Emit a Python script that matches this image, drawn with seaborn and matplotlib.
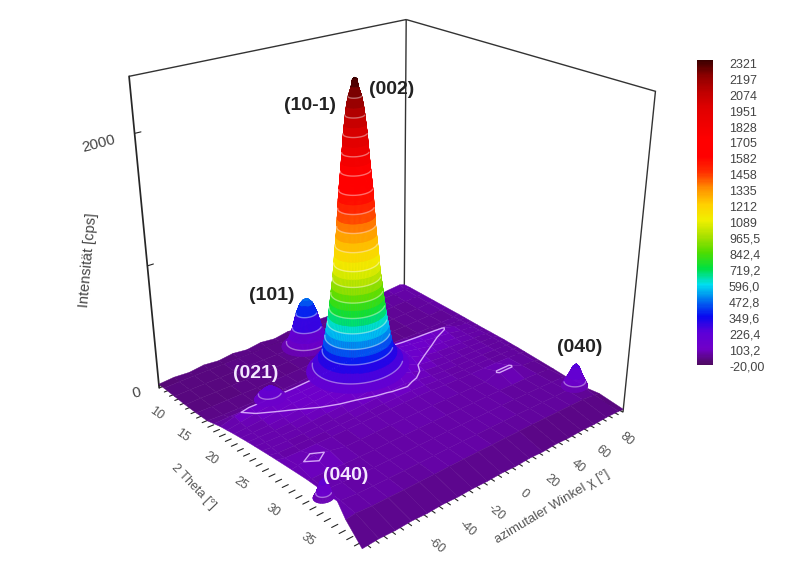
import numpy as np
import matplotlib
matplotlib.use('Agg')
import matplotlib.pyplot as plt
from matplotlib.cm import ScalarMappable
from matplotlib.colors import Normalize
import seaborn as sns

# colour bar
bar_levels = [-20, 103.2, 226.4, 349.6, 472.8, 596.0, 719.2, 842.4, 965.5, 1089, 1212,
              1335, 1458, 1582, 1705, 1828, 1951, 2074, 2197, 2321]
bar_labels = ['-20,00', '103,2', '226,4', '349,6', '472,8', '596,0', '719,2', '842,4', '965,5', '1089',
              '1212', '1335', '1458', '1582', '1705', '1828', '1951', '2074', '2197', '2321']
bar_colors = ['#4e0a60', '#7000c8', '#5c00d8', '#0808f0', '#0070f0', '#00e0f0', '#00e040', '#50dc00',
              '#a8e000', '#f0f000', '#ffd000', '#ff9000', '#ff3000', '#ff0000', '#ff0000', '#f00000',
              '#e00000', '#c00000', '#900000', '#3c0000']

# floor of the map (rows: 2 theta, columns: chi)
chi = [-100, -90, -80, -70, -60, -50, -40, -30, -20, -10, 0, 10, 20, 30, 40, 50, 60, 70, 80, 84]
theta = [9, 10, 12, 14, 16, 18, 19, 20, 21, 22, 23, 24, 25, 26, 27, 28, 30, 32, 34, 36, 38, 41]
left_edge = [-100, -100, -100, -100, -100, -100, -99.5, -99, -98.5, -98, -97.5, -97, -96.5, -96, -95.5, -95,
             -94, -93, -92.5, -92, -96, -100]
floor = [
    [12, 22, 14, 30, 18, 34, 20, 38, 24, 44, 30, 50, 44, 62, 70, 82, 60, 75, 85, 70],
    [14, 18, 20, 22, 24, 26, 26, 30, 30, 32, 34, 38, 42, 48, 52, 58, 60, 65, 70, 72],
    [16, 20, 22, 22, 26, 28, 30, 30, 36, 38, 40, 38, 38, 40, 44, 50, 52, 58, 62, 70],
    [18, 22, 22, 24, 26, 30, 30, 35, 40, 42, 42, 40, 36, 38, 40, 44, 48, 52, 60, 68],
    [24, 24, 26, 28, 28, 32, 34, 40, 46, 52, 54, 48, 40, 38, 40, 42, 46, 50, 56, 66],
    [34, 30, 30, 32, 34, 36, 42, 50, 62, 76, 82, 72, 56, 46, 44, 44, 46, 50, 56, 64],
    [46, 50, 52, 56, 58, 60, 68, 76, 88, 100, 108, 96, 80, 66, 60, 58, 58, 56, 58, 62],
    [58, 92, 118, 118, 122, 124, 130, 140, 160, 190, 210, 185, 150, 132, 122, 116, 108, 74, 60, 60],
    [64, 82, 104, 118, 120, 122, 128, 140, 165, 200, 225, 195, 155, 135, 120, 104, 92, 70, 60, 58],
    [70, 76, 88, 104, 116, 120, 126, 138, 165, 200, 225, 195, 150, 128, 104, 90, 80, 68, 60, 56],
    [74, 76, 80, 88, 103, 116, 124, 136, 160, 190, 215, 185, 140, 103, 88, 80, 74, 66, 60, 56],
    [78, 78, 76, 80, 90, 103, 115, 130, 150, 180, 200, 165, 103, 88, 78, 74, 70, 64, 58, 54],
    [80, 76, 74, 74, 80, 88, 98, 106, 125, 150, 165, 125, 90, 78, 72, 68, 66, 62, 58, 54],
    [82, 74, 72, 72, 74, 78, 84, 90, 96, 106, 112, 96, 80, 72, 68, 66, 64, 60, 56, 50],
    [84, 72, 70, 70, 72, 74, 76, 80, 84, 88, 90, 84, 76, 70, 66, 64, 62, 58, 54, 48],
    [85, 72, 70, 70, 70, 72, 74, 76, 78, 80, 80, 78, 72, 68, 66, 64, 62, 58, 52, 44],
    [86, 95, 118, 95, 70, 70, 72, 72, 74, 74, 74, 72, 70, 68, 66, 108, 108, 58, 50, 36],
    [86, 74, 78, 70, 68, 68, 70, 70, 70, 70, 70, 68, 66, 66, 64, 62, 62, 56, 46, 28],
    [86, 76, 70, 68, 66, 66, 66, 68, 68, 68, 66, 66, 64, 64, 62, 60, 58, 54, 50, 18],
    [86, 78, 68, 66, 64, 64, 64, 66, 66, 66, 64, 64, 62, 62, 60, 58, 56, 56, 60, 14],
    [60, 70, 62, 62, 60, 60, 60, 62, 62, 62, 60, 60, 58, 58, 56, 54, 52, 50, 36, 28],
    [6, 14, 10, 16, 10, 16, 10, 14, 10, 14, 8, 14, 8, 14, 8, 12, 8, 12, 8, 4],
]

# main reflection: height, chi half width and forward drift (px) of each ring
main_z = [2321, 2310, 2259, 2197, 2135, 2074, 2012, 1951, 1889, 1828, 1766, 1705, 1643, 1582, 1520, 1458, 1396, 1335,
          1273, 1212, 1150, 1089, 1027, 965, 904, 842, 780, 719, 657, 596, 534, 472, 410, 349, 287, 226, 165]
main_r = [0, 1.3, 2.1, 3.8, 4.8, 5.5, 6.1, 6.7, 7.1, 7.6, 8.0, 8.5, 9.0, 9.5, 9.9, 10.2, 10.6, 10.9,
          11.4, 11.9, 12.4, 12.8, 13.2, 13.7, 14.3, 14.9, 15.4, 16.0, 16.6, 17.3, 18.2, 19.0, 19.9, 20.8, 23.2, 26.8, 30.4]
main_drift = [0, 0.2, 1.3, 2.5, 3.8, 5, 6.3, 7.5, 8.8, 10, 11.3, 12.5, 13.8, 15, 16.3, 17.5, 18.8, 20,
              21.3, 22.5, 23.8, 25, 24.5, 24, 23.5, 23, 22.5, 22, 21.5, 21, 20.5, 20, 19.5, 19, 18.5, 18, 17]
main_rings = [226, 349, 472, 596, 719, 842, 965, 1089, 1212, 1335, 1458, 1582, 1705, 1828, 1951, 2074, 2197]

p101_z = [470, 460, 430, 349, 226, 150, 103, 70]
p101_r = [0, 2, 4, 6.5, 9, 11, 13, 16]
p021_z = [215, 190, 150, 110]
p021_r = [0, 3, 6.5, 9]
p040a_z = [210, 180, 103, 70]
p040a_r = [0, 2, 4, 5.5]
p040b_z = [250, 226, 150, 103, 65]
p040b_r = [0, 2, 4.5, 6.5, 8]

sns.set_theme(style='white')
plt.rcParams['font.family'] = ['Liberation Sans', 'DejaVu Sans']

rainbow = sns.blend_palette(bar_colors, n_colors=256, as_cmap=True)
norm = Normalize(-20, 2321)
RING = (1, 1, 1, 0.42)

fig = plt.figure(figsize=(8, 5.63), dpi=100)
ax = fig.add_axes([0.10675, 0.0172, 0.73425, 1.0433], projection='3d', computed_zorder=False)
ax.set_xlim(-100, 84)
ax.set_ylim(41, 9)
ax.set_zlim(-20, 2400)
ax.set_box_aspect((0.9001, 0.9085, 0.8975))
ax.set_proj_type('persp', focal_length=0.3674)
ax.view_init(elev=25.074, azim=-129.7253)
ax.patch.set_alpha(0)
ax.grid(False)


def draw_peak(c_chi, c_theta, ring_z, ring_r, rings, order, drift=None):
    t = np.linspace(0, 2 * np.pi, 97)
    r = np.array(ring_r, dtype=float)
    z = np.array(ring_z, dtype=float)
    d = np.zeros_like(r) if drift is None else np.array(drift, dtype=float)
    X = (c_chi - 0.69 * d)[:, None] + np.outer(r, np.cos(t))
    Y = (c_theta + 0.15 * d)[:, None] + 0.15 * np.outer(r, np.sin(t))
    Z = np.outer(z, np.ones_like(t))
    surf = ax.plot_surface(X, Y, Z, rstride=1, cstride=1, cmap=rainbow, norm=norm, shade=False,
                           linewidth=0.3, antialiased=True, zorder=order)
    surf.set_edgecolor('face')
    front = -0.64 * np.cos(t) + 0.77 * np.sin(t) > 0.03
    for i, level in enumerate(ring_z):
        if level in rings:
            tt = np.where(front, 1.0, np.nan)
            ax.plot(X[i] * tt, Y[i] * tt, Z[i], color=RING, lw=1, zorder=order + 0.5)


chi_grid, theta_grid = np.meshgrid(chi, theta)
chi_grid = chi_grid.astype(float)
chi_grid[:, 0] = left_edge
floor_z = np.array(floor, dtype=float)
base = ax.plot_surface(chi_grid, theta_grid, floor_z, rstride=1, cstride=1, cmap=rainbow, norm=norm, shade=False,
                       linewidth=0.3, antialiased=True, zorder=1)
base.set_edgecolor('face')
ax.contour(chi_grid, theta_grid, floor_z, levels=[103.2], colors=[(0.88, 0.72, 1.0, 0.9)], linewidths=1, zorder=2)

draw_peak(-66, 19.8, p021_z, p021_r, [150], 3)
draw_peak(-94, 34.6, p040a_z, p040a_r, [103], 4)
draw_peak(76, 36, p040b_z, p040b_r, [103], 5)
draw_peak(-12, 13, p101_z, p101_r, [349, 226, 103], 6)
draw_peak(-1, 19.0, main_z, main_r, main_rings, 8, main_drift)

# axes
chi_ticks = list(range(-95, 85, 5))
theta_ticks = list(range(10, 41))
ax.set_xticks(chi_ticks)
ax.set_xticklabels([str(v) if v % 20 == 0 and v > -80 else '' for v in chi_ticks])
ax.set_yticks(theta_ticks)
ax.set_yticklabels([str(v) if v % 5 == 0 else '' for v in theta_ticks])
ax.set_zticks([0, 1000, 2000])
ax.set_zticklabels(['0', '', '2000'])
ax.tick_params(axis='x', labelsize=9, labelcolor='#555555', rotation=-40, pad=0)
ax.tick_params(axis='y', labelsize=9, labelcolor='#555555', rotation=-35, pad=-1)
ax.tick_params(axis='z', labelsize=11, labelcolor='#444444', rotation=15, pad=0)
for lab in ax.zaxis.get_ticklabels():
    lab.set_ha('right')
for axis in (ax.xaxis, ax.yaxis, ax.zaxis):
    axis._axinfo['tick']['inward_factor'] = 0.0
    axis._axinfo['tick']['outward_factor'] = 0.25
    axis._axinfo['tick']['color'] = '#444444'
    axis._axinfo['tick']['linewidth'] = {True: 0.8, False: 0.8}
ax.xaxis.line.set_color((0, 0, 0, 0))
ax.yaxis.line.set_color((0, 0, 0, 0))
ax.xaxis.set_pane_color((1, 1, 1, 1))
ax.yaxis.set_pane_color((1, 1, 1, 1))
ax.zaxis.set_pane_color((1, 1, 1, 0))
ax.xaxis.pane.set_edgecolor('#333333')
ax.yaxis.pane.set_edgecolor('#333333')
ax.zaxis.pane.set_edgecolor((0, 0, 0, 0))

# colour bar
cax = fig.add_axes([697 / 800, 198 / 563, 16 / 800, 305 / 563])
cb = fig.colorbar(ScalarMappable(norm=norm, cmap=rainbow), cax=cax)
cb.set_ticks([])
cb.outline.set_visible(False)
for i, s in enumerate(bar_labels):
    fig.text(729 / 800, 1 - (367 - 15.9 * i) / 563, s, ha='left', va='center', fontsize=9, color='#444444')


def label(px, py, s, **kw):
    fig.text(px / 800, 1 - py / 563, s, ha='center', va='center', **kw)


label(88, 260, 'Intensität [cps]', fontsize=10.5, rotation=85, color='#444444')
label(193, 487, '2 Theta [°]', fontsize=9, rotation=-46, color='#555555')
label(552, 507, 'azimutaler Winkel χ [°]', fontsize=9.5, rotation=31, color='#555555')
label(310, 105, '(10-1)', fontsize=14, fontweight='bold', color='#222222')
label(392, 90, '(002)', fontsize=14, fontweight='bold', color='#222222')
label(272, 296, '(101)', fontsize=14, fontweight='bold', color='#222222')
label(580, 347, '(040)', fontsize=14, fontweight='bold', color='#222222')
label(256, 373, '(021)', fontsize=14, fontweight='bold', color='#f4e8ff')
label(346, 476, '(040)', fontsize=14, fontweight='bold', color='#f4e8ff')

fig.savefig('out.png', dpi=100)
